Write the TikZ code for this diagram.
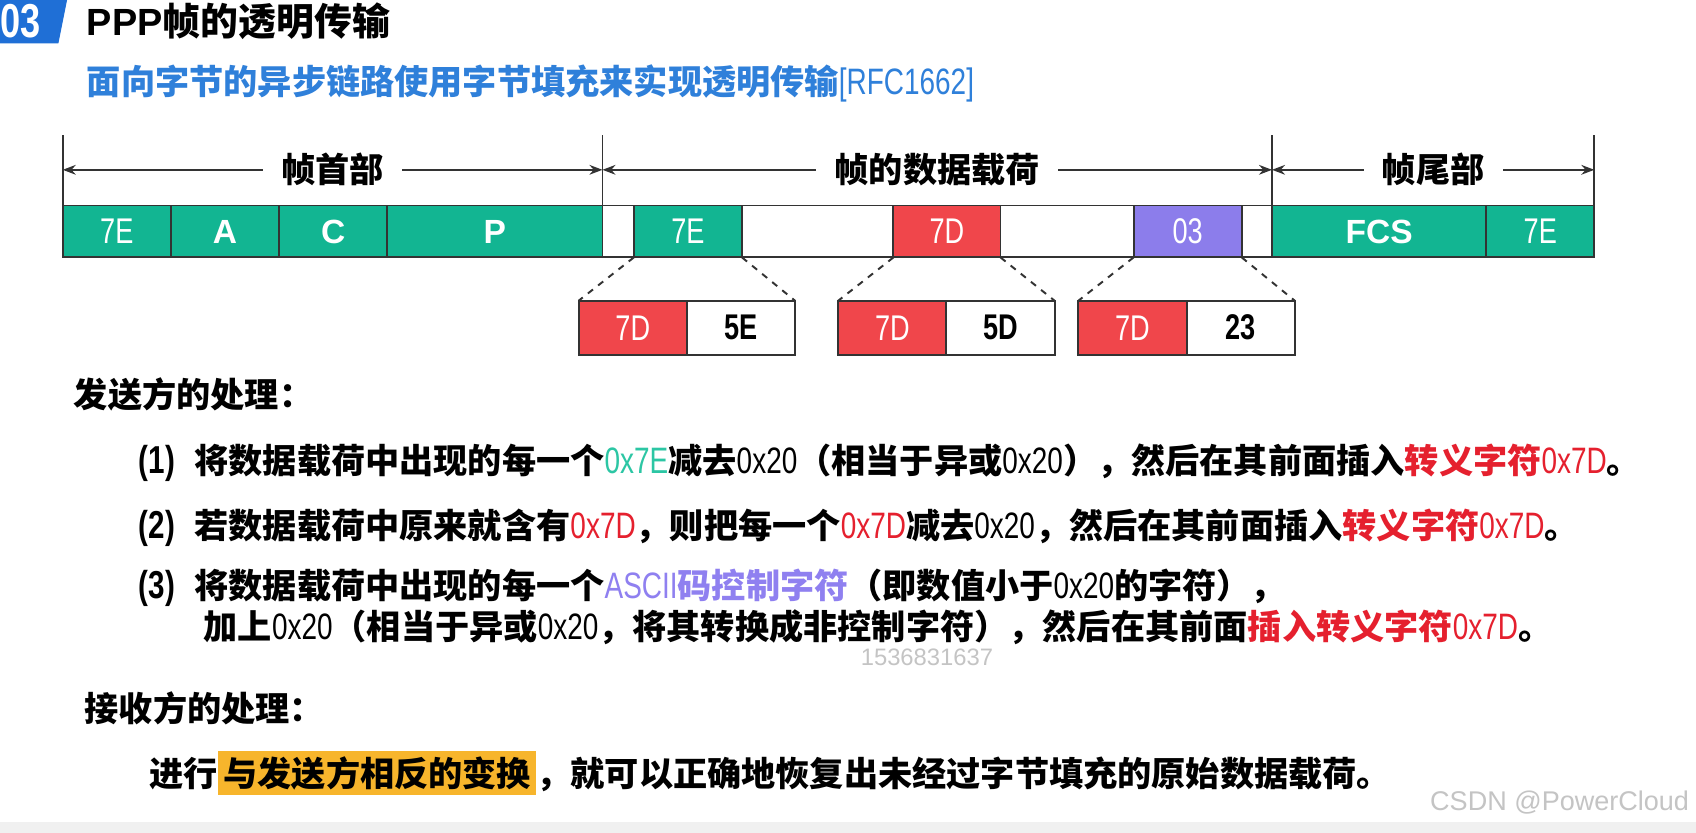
\documentclass[tikz,border=0pt]{standalone}
\usepackage{fontspec}
\setmainfont{Liberation Sans}
\newfontfamily\cjk{Noto Sans CJK SC}
\newfontfamily\nar[FakeStretch=0.76]{Liberation Sans}
\usetikzlibrary{arrows.meta,positioning}
\definecolor{line}{HTML}{333333}
\definecolor{cellgreen}{HTML}{12B592}
\definecolor{cellred}{HTML}{F0464B}
\definecolor{cellpurple}{HTML}{8C7DEB}
\definecolor{badgeblue}{HTML}{1F6FD6}
\definecolor{subblue}{HTML}{2F80DA}
\definecolor{txtgreen}{HTML}{2CC6A4}
\definecolor{txtred}{HTML}{E5202E}
\definecolor{txtpurple}{HTML}{8F80F0}
\definecolor{hlorange}{HTML}{F7B52C}
\definecolor{band}{HTML}{F0F0F0}
\definecolor{mark}{HTML}{C4C4C4}
\newcommand{\bodyfont}{\cjk\bfseries\fontsize{15.8}{18}\selectfont}
\newcommand{\hx}[1]{{\nar\mdseries\fontsize{17}{18}\selectfont #1}}
\tikzset{cell/.style={draw=line,line width=0.9pt,minimum height=24pt,minimum width=50pt,
  inner sep=0pt,outer sep=0pt,text=white,font=\nar\fontsize{16.5}{18}\selectfont},
  gcell/.style={cell,fill=cellgreen},
  bcell/.style={gcell,font=\bfseries\fontsize{15.5}{18}\selectfont},
  rcell/.style={cell,fill=cellred},
  pcell/.style={cell,fill=cellpurple},
  wcell/.style={cell,fill=white,text=black,font=\nar\bfseries\fontsize{16.5}{18}\selectfont},
  lowcell/.style={minimum height=25pt},
  sepline/.style={line width=0.9pt,draw=line},
  dim/.style={{Stealth[length=6pt,width=4.5pt]}-{Stealth[length=6pt,width=4.5pt]},line width=0.9pt,draw=line},
  dimlabel/.style={fill=white,inner xsep=8.5pt,inner ysep=2pt,font=\bodyfont},
  zoomline/.style={dashed,line width=0.9pt,draw=line},
  txt/.style={anchor=west,inner sep=0pt,font=\bodyfont}}
\begin{document}
\begin{tikzpicture}[x=0.5pt,y=-0.5pt]
\useasboundingbox (0,0) rectangle (1568,770);
\fill[white] (0,0) rectangle (1568,770);
\fill[band] (0,760) rectangle (1568,770);
\fill[badgeblue] (0,0) -- (62,0) -- (54,40) -- (0,40) -- cycle;
\node[anchor=east,inner sep=0pt,text=white,font=\nar\bfseries\fontsize{22}{22}\selectfont] (num) at (38,20) {03};
\node[txt,font=\cjk\bfseries\fontsize{17.5}{20}\selectfont] (title) at (80,20) {{\rmfamily\bfseries PPP}帧的透明传输};
\node[txt,text=subblue] (subtitle) at (80,77) {面向字节的异步链路使用字节填充来实现透明传输\hx{[RFC1662]}};

\node[gcell] (h7e) at (108,214) {7E};
\node[bcell,right=0pt of h7e] (ha) {A};
\node[bcell,right=0pt of ha] (hc) {C};
\node[bcell,right=0pt of hc,minimum width=99.5pt] (hp) {P};
\node[wcell,right=0pt of hp,minimum width=14.5pt] (g1) {};
\node[gcell,right=0pt of g1] (p7e) {7E};
\node[wcell,right=0pt of p7e,minimum width=70pt] (g2) {};
\node[rcell,right=0pt of g2,minimum width=49.5pt] (p7d) {7D};
\node[wcell,right=0pt of p7d,minimum width=61.5pt] (g3) {};
\node[pcell,right=0pt of g3] (p03) {03};
\node[wcell,right=0pt of p03,minimum width=14pt] (g4) {};
\node[bcell,right=0pt of g4,minimum width=99pt] (tfcs) {FCS};
\node[gcell,right=0pt of tfcs] (t7e) {7E};

\node[rcell,lowcell] (s1a) at (585,303) {7D};
\node[wcell,lowcell,right=0pt of s1a] (s1b) {5E};
\node[rcell,lowcell] (s2a) at (825,303) {7D};
\node[wcell,lowcell,right=0pt of s2a] (s2b) {5D};
\node[rcell,lowcell] (s3a) at (1047,303) {7D};
\node[wcell,lowcell,right=0pt of s3a] (s3b) {23};

\coordinate (top) at (0,125);
\coordinate (dimy) at (0,157);
\draw[sepline] (h7e.south west) -- (h7e.south west |- top);
\draw[sepline] (hp.south east) -- (hp.south east |- top);
\draw[sepline] (tfcs.south west) -- (tfcs.south west |- top);
\draw[sepline] (t7e.south east) -- (t7e.south east |- top);
\draw[dim] (h7e.west |- dimy) -- (hp.east |- dimy) node[midway,dimlabel] (lhead) {帧首部};
\draw[dim] (g1.west |- dimy) -- (g4.east |- dimy) node[midway,dimlabel] (lload) {帧的数据载荷};
\draw[dim] (tfcs.west |- dimy) -- (t7e.east |- dimy) node[midway,dimlabel] (ltail) {帧尾部};

\draw[zoomline] (p7e.south west) -- (s1a.north west);
\draw[zoomline] (p7e.south east) -- (s1b.north east);
\draw[zoomline] (p7d.south west) -- (s2a.north west);
\draw[zoomline] (p7d.south east) -- (s2b.north east);
\draw[zoomline] (p03.south west) -- (s3a.north west);
\draw[zoomline] (p03.south east) -- (s3b.north east);

\node[txt] (sendhead) at (68,365) {发送方的处理：};
\node[txt] (rule1) at (128,428) {{\nar\fontsize{18}{18}\selectfont (1)}\hspace{9pt}将数据载荷中出现的每一个\textcolor{txtgreen}{\hx{0x7E}}减去\hx{0x20}（相当于异或\hx{0x20}），然后在其前面插入\textcolor{txtred}{转义字符\hx{0x7D}}。};
\node[txt] (rule2) at (128,488) {{\nar\fontsize{18}{18}\selectfont (2)}\hspace{9pt}若数据载荷中原来就含有\textcolor{txtred}{\hx{0x7D}}，则把每一个\textcolor{txtred}{\hx{0x7D}}减去\hx{0x20}，然后在其前面插入\textcolor{txtred}{转义字符\hx{0x7D}}。};
\node[txt] (rule3) at (128,543) {{\nar\fontsize{18}{18}\selectfont (3)}\hspace{9pt}将数据载荷中出现的每一个\textcolor{txtpurple}{\hx{ASCII}码控制字符}（即数值小于\hx{0x20}的字符），};
\node[txt] (rule3b) at (188,580) {加上\hx{0x20}（相当于异或\hx{0x20}，将其转换成非控制字符），然后在其前面\textcolor{txtred}{插入转义字符\hx{0x7D}}。};
\node[inner sep=0pt,text=mark,font=\fontsize{11}{12}\selectfont] (mark) at (857,608) {1536831637};
\node[txt] (recvhead) at (78,655) {接收方的处理：};
\node[txt] (recvtext) at (138,715) {进行{\setlength{\fboxsep}{2.5pt}\colorbox{hlorange}{与发送方相反的变换}}，就可以正确地恢复出未经过字节填充的原始数据载荷。};
\node[anchor=east,inner sep=0pt,text=mark,font=\fontsize{12.5}{14}\selectfont] (csdn) at (1562,742) {CSDN @PowerCloud};
\end{tikzpicture}
\end{document}
